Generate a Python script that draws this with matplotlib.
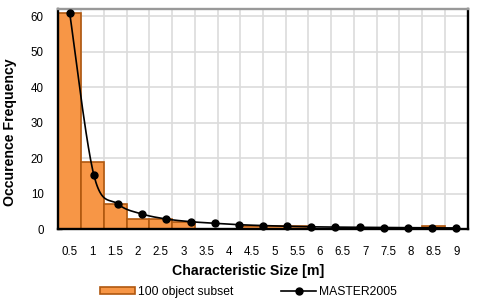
import numpy as np
import matplotlib
matplotlib.use("Agg")
import matplotlib.pyplot as plt
from matplotlib.lines import Line2D
from matplotlib.patches import Patch

# ---------------- data ----------------
categories = ["0.5", "1", "1.5", "2", "2.5", "3", "3.5", "4", "4.5", "5",
              "5.5", "6", "6.5", "7", "7.5", "8", "8.5", "9"]
subset_counts = [61, 19, 7, 3, 3, 2, 0, 0, 1, 1, 1, 0, 0, 0, 0, 0, 1, 0]
master_sizes = [0.5, 1.0, 1.5, 2.0, 2.5, 3.0, 3.5, 4.0, 4.5, 5.0,
                5.5, 6.0, 6.5, 7.0, 7.5, 8.0, 8.5]
master_freq = [61.0, 15.3, 7.1, 4.3, 2.9, 2.15, 1.7, 1.3, 1.05, 0.85,
               0.7, 0.62, 0.56, 0.5, 0.46, 0.42, 0.38]
yticks = [0, 10, 20, 30, 40, 50, 60]

plt.rcParams['font.family'] = ['Liberation Sans', 'DejaVu Sans']

W, H = 479, 304
fig = plt.figure(figsize=(W / 100, H / 100), dpi=100)
left, right, top, bottom = 58.3, 467.7, 9.3, 229.3
ax = fig.add_axes([left / W, 1 - bottom / H, (right - left) / W, (bottom - top) / H])

n = len(categories)
x = np.arange(n)
ax.bar(x, subset_counts, width=1.0, color='#F79646', edgecolor='#B0580F',
       linewidth=1.2, zorder=2)
ax.set_xlim(-0.5, n - 0.5)
ax.set_ylim(0, 62)
ax.set_yticks(yticks)
ax.set_xticks(x)
ax.set_xticklabels(categories)
ax.set_xticks(np.arange(n + 1) - 0.5, minor=True)
ax.set_axisbelow(True)
ax.grid(True, axis='y', which='major', color='#dcdcdc', linewidth=1.2)
ax.grid(True, axis='x', which='minor', color='#dcdcdc', linewidth=1.2)
ax.grid(False, axis='x', which='major')
ax.tick_params(axis='y', direction='in', length=3, width=1, colors='black',
               labelsize=8.3, pad=10.5)
ax.tick_params(axis='x', which='both', length=0, labelsize=8.3, pad=12.0)
for s in ['left', 'bottom', 'right']:
    ax.spines[s].set_color('black')
    ax.spines[s].set_linewidth(1.7)
ax.spines['top'].set_color('#999999')
ax.spines['top'].set_linewidth(1.7)

ax.set_xlabel("Characteristic Size [m]", fontsize=10.2, fontweight='bold', va='center')
ax.xaxis.set_label_coords((248 - left) / (right - left), (bottom - 270.7) / (bottom - top))
ax.set_ylabel("Occurence Frequency", fontsize=10.2, fontweight='bold', va='center')
ax.yaxis.set_label_coords((10.0 - left) / (right - left), (bottom - 132.5) / (bottom - top))

# secondary x scale for the MASTER2005 line
ax2 = ax.twiny()
ds = (master_sizes[-1] - master_sizes[0]) / (n - 1)
ax2.set_xlim(master_sizes[0] - 0.5 * ds, master_sizes[-1] + 0.5 * ds)
ax2.set_ylim(ax.get_ylim())
ax2.set_xticks([])
for s in ax2.spines.values():
    s.set_visible(False)

# smooth (Bezier / Catmull-Rom) rendering through the data points
xr = ax2.get_xlim()
sx = (right - left) / (xr[1] - xr[0])
sy = (bottom - top) / 62.0
P = np.column_stack([np.array(master_sizes) * sx, np.array(master_freq) * sy])
curve = []
for i in range(len(P) - 1):
    p0 = P[max(i - 1, 0)]
    p1 = P[i]
    p2 = P[i + 1]
    p3 = P[min(i + 2, len(P) - 1)]
    c1 = p1 + (p2 - p0) / 6.0
    c2 = p2 - (p3 - p1) / 6.0
    t = np.linspace(0, 1, 25)[:, None]
    seg = ((1 - t) ** 3) * p1 + 3 * ((1 - t) ** 2) * t * c1 + 3 * (1 - t) * t ** 2 * c2 + t ** 3 * p2
    curve.append(seg if i == 0 else seg[1:])
curve = np.vstack(curve)
ax2.plot(curve[:, 0] / sx, curve[:, 1] / sy, color='black', linewidth=1.2,
         zorder=3, clip_on=False)
ax2.plot(master_sizes, master_freq, linestyle='none', marker='o', markersize=5,
         color='black', zorder=4, clip_on=False)

handles = [Patch(facecolor='#F79646', edgecolor='#B0580F', linewidth=1.2),
           Line2D([], [], color='black', linewidth=1.2, marker='o', markersize=5)]
fig.legend(handles, ["100 object subset", "MASTER2005"], loc='center',
           bbox_to_anchor=(248.5 / W, 12 / H), ncol=2, frameon=False,
           fontsize=8.7, handlelength=2.9, handleheight=0.45, handletextpad=0.25,
           columnspacing=4.0, numpoints=1, borderpad=0.2)

fig.savefig("out.png", dpi=100)
